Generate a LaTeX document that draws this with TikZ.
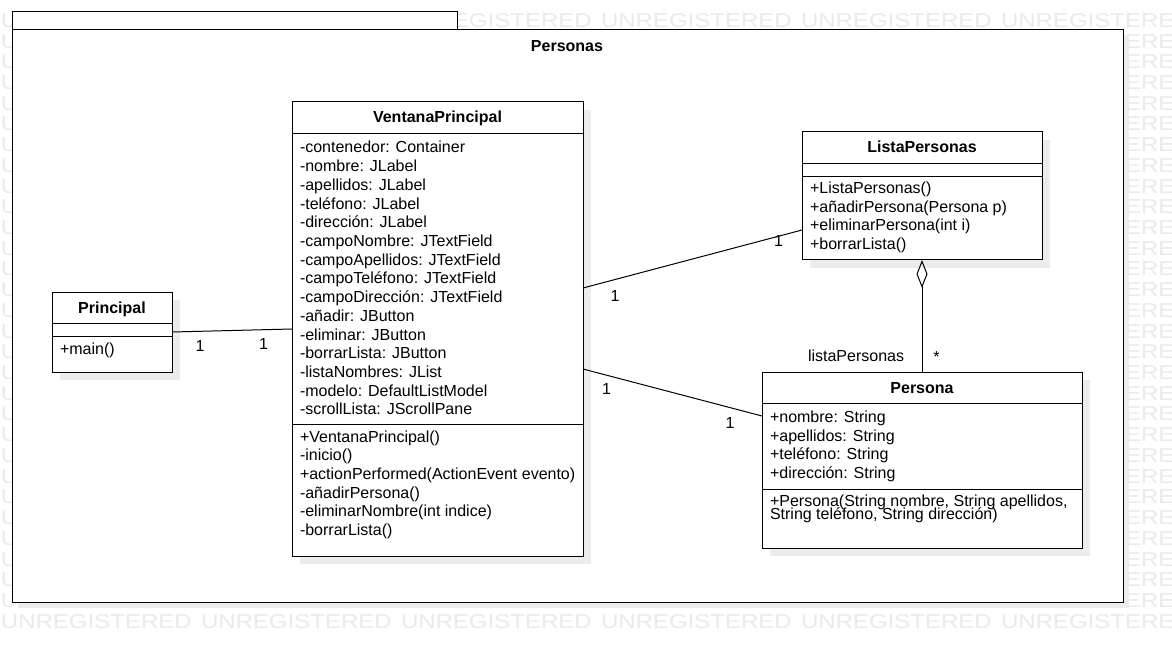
\documentclass[tikz,border=0pt]{standalone}
\usepackage{fontspec}
\setmainfont{Liberation Sans}
\newfontfamily\wmfont[FakeStretch=1.2]{Liberation Sans}
\usetikzlibrary{arrows.meta,shadows}
\definecolor{wmgray}{RGB}{234,234,234}
\definecolor{shadowgray}{RGB}{236,236,236}
\begin{document}
\begin{tikzpicture}[x=1pt,y=-1pt,
  every node/.style={inner sep=0pt, outer sep=0pt},
  wm/.style={anchor=base west, text=wmgray, font=\wmfont\fontsize{20}{20}\selectfont},
  cbox/.style={draw=black, fill=white, line width=1pt, anchor=north west,
    drop shadow={shadow xshift=8pt, shadow yshift=-8pt, fill=shadowgray, opacity=1}},
  member/.style={anchor=base west, font=\fontsize{16}{18.7}\selectfont},
  cname/.style={anchor=base, font=\bfseries\fontsize{16}{18.7}\selectfont},
  mult/.style={anchor=base, font=\fontsize{16}{18.7}\selectfont},
  link/.style={draw=black, line width=1pt}]
\useasboundingbox (0,0) rectangle (1172,652);
\fill[white] (0,0) rectangle (1172,652);

% background watermark rows
\foreach \r in {0,...,29}
  \foreach \c in {0,...,5}
    \node[wm] (wm-\r-\c) at (1+\c*200, 27.3+\r*20.72) {UNREGISTERED};

% package frame with its tab
\fill[shadowgray] (18,36) rectangle (1129,608);
\draw[fill=white, line width=1pt] (12,12) rectangle (457,30);
\draw[fill=white, line width=1pt] (12,30) rectangle (1123,602);
\node[cname] (pkg) at (567,52) {Personas};

% class Principal
\node[cbox, minimum width=120, minimum height=80] (pr) at (52,292) {};
\draw (pr.west |- 0,323) -- (pr.east |- 0,323);
\draw (pr.west |- 0,336) -- (pr.east |- 0,336);
\node[cname] (prn) at (112,313.5) {Principal};
\node[member] (prm) at (60,354) {+main()};

% class VentanaPrincipal
\node[cbox, minimum width=291, minimum height=454] (vp) at (292,102) {};
\draw (vp.west |- 0,133) -- (vp.east |- 0,133);
\draw (vp.west |- 0,424) -- (vp.east |- 0,424);
\node[cname] (vpn) at (437.5,122.5) {VentanaPrincipal};
\foreach \t [count=\i from 0] in {-contenedor: Container, -nombre: JLabel,
  -apellidos: JLabel, -teléfono: JLabel, -dirección: JLabel,
  -campoNombre: JTextField, -campoApellidos: JTextField,
  -campoTeléfono: JTextField, -campoDirección: JTextField,
  -añadir: JButton, -eliminar: JButton, -borrarLista: JButton,
  -listaNombres: JList, -modelo: DefaultListModel, -scrollLista: JScrollPane}
  \node[member] (vpa\i) at (300,153+\i*18.7) {\t};
\foreach \t [count=\i from 0] in {+VentanaPrincipal(), -inicio(),
  +actionPerformed(ActionEvent evento), -añadirPersona(),
  -eliminarNombre(int indice), -borrarLista()}
  \node[member] (vpo\i) at (300,442+\i*18.7) {\t};

% class ListaPersonas
\node[cbox, minimum width=240, minimum height=128] (lp) at (802,132) {};
\draw (lp.west |- 0,163) -- (lp.east |- 0,163);
\draw (lp.west |- 0,176) -- (lp.east |- 0,176);
\node[cname] (lpn) at (922,153) {ListaPersonas};
\foreach \t [count=\i from 0] in {+ListaPersonas(), +añadirPersona(Persona p),
  +eliminarPersona(int i), +borrarLista()}
  \node[member] (lpo\i) at (810,193.5+\i*18.7) {\t};

% class Persona
\node[cbox, minimum width=320, minimum height=176] (ps) at (762,372) {};
\draw (ps.west |- 0,403) -- (ps.east |- 0,403);
\draw (ps.west |- 0,489) -- (ps.east |- 0,489);
\node[cname] (psn) at (922,393) {Persona};
\foreach \t [count=\i from 0] in {+nombre: String, +apellidos: String,
  +teléfono: String, +dirección: String}
  \node[member] (psa\i) at (770,422.5+\i*18.5) {\t};
\node[member] (pso0) at (770,506) {+Persona(String nombre, String apellidos,};
\node[member] (pso1) at (770,519.5) {String teléfono, String dirección)};

% associations
\draw[link] (pr.east) -- (vp.west);
\node[mult] (m1) at (200,351) {1};
\node[mult] (m2) at (263.5,349) {1};

\draw[link] ([yshift=41pt]vp.east) -- ([yshift=-34pt]lp.west);
\node[mult] (m3) at (615,301.5) {1};
\node[mult] (m4) at (778.5,246.5) {1};

\draw[link] ([yshift=-40pt]vp.east) -- ([yshift=44pt]ps.west);
\node[mult] (m5) at (606.5,394) {1};
\node[mult] (m6) at (730,428) {1};

% aggregation ListaPersonas <>-- Persona
\draw[link, {Diamond[open, length=28pt, width=11pt]}-] (lp.south) -- (ps.north);
\node[member] (role) at (808,361.5) {listaPersonas};
\node[mult] (m7) at (936.5,362) {*};
\end{tikzpicture}
\end{document}
